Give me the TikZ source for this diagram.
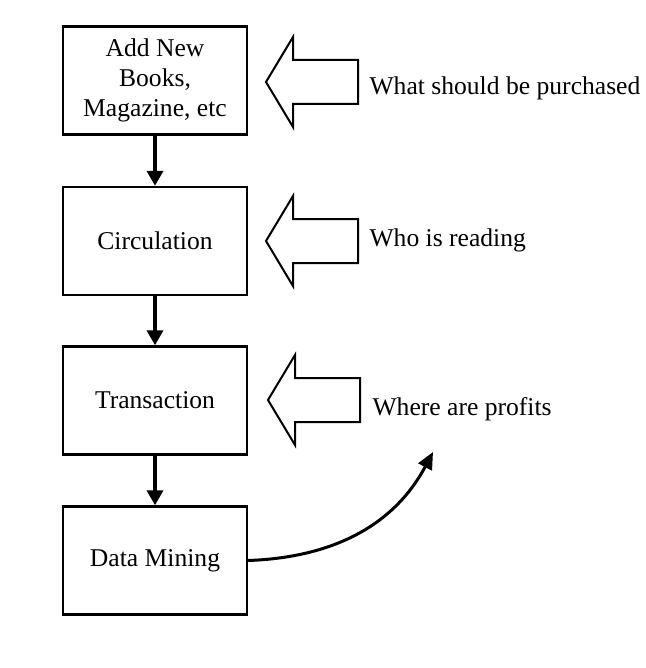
\documentclass[tikz,border=0pt]{standalone}
\usepackage{fontspec}
\setmainfont{Liberation Serif}
\usetikzlibrary{arrows.meta,calc}

\begin{document}
\begin{tikzpicture}[
  x=1pt, y=-1pt,
  stage/.style={
    draw=black, line width=2.4pt, fill=white,
    minimum width=184pt, minimum height=108pt,
    font=\fontsize{25.6}{30}\selectfont, align=center
  },
  note/.style={anchor=west, font=\fontsize{25.6}{30}\selectfont},
  hollow/.style={draw=black, line width=2pt, fill=white, line join=miter},
  downflow/.style={-{Triangle[length=15pt,width=16pt]}, line width=3.8pt},
  outflow/.style={-{Triangle[length=17pt,width=15pt]}, line width=3pt}
]
\useasboundingbox (0,0) rectangle (645,668);

% Library workflow stages.
\node[stage] (add)   at (155,80.5)  {Add New\\Books,\\Magazine, etc};
\node[stage] (circ)  at (155,241)   {Circulation};
\node[stage] (trans) at (155,400.5) {Transaction};
\node[stage] (mine)  at (155,560.5) {Data Mining};

% Hollow arrows pointing back at the stages.
\coordinate (tipadd)   at (266,82);
\coordinate (tipcirc)  at (266,241);
\coordinate (tiptrans) at (268,400);
\foreach \t in {tipadd,tipcirc,tiptrans}{
  \draw[hollow]
    (\t) -- ($(\t)+(27,-45)$) -- ($(\t)+(27,-22)$) -- ($(\t)+(92,-22)$)
    -- ($(\t)+(92,22)$) -- ($(\t)+(27,22)$) -- ($(\t)+(27,45)$) -- cycle;
}

% Questions answered at each stage.
\node[note] (buy)    at (366,88)  {What should be purchased};
\node[note] (who)    at (366,240) {Who is reading};
\node[note] (profit) at (369,409) {Where are profits};

% Flow down the stages; mining feeds the profit question.
\draw[downflow] (add.south)   -- (circ.north);
\draw[downflow] (circ.south)  -- (trans.north);
\draw[downflow] (trans.south) -- (mine.north);
\coordinate (mineend) at (433,452);
\draw[outflow] (mine.east) to[out=2,in=-118] (mineend);

\end{tikzpicture}
\end{document}
